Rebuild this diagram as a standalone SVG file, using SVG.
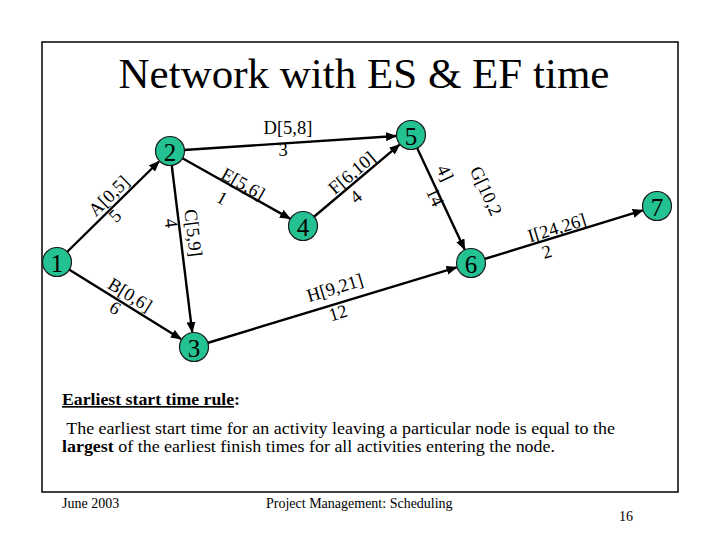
<svg xmlns="http://www.w3.org/2000/svg" width="720" height="540" viewBox="0 0 720 540">
<style>
text{font-family:"Liberation Serif","Times New Roman",serif;fill:#000}
.node circle{fill:#24c192;stroke:#1a1a1a;stroke-width:1.2}
.node text{font-size:25px;text-anchor:middle;dominant-baseline:central}
.edge{stroke:#000;stroke-width:2.4;fill:none;marker-end:url(#arr)}
.lbl{font-size:18.5px;text-anchor:middle;dominant-baseline:central}
.title{font-size:43px;text-anchor:middle}
.body{font-size:16.5px}
.foot{font-size:14px}
</style>
<defs>
<marker id="arr" markerUnits="userSpaceOnUse" markerWidth="11" markerHeight="9" refX="10" refY="4.5" orient="auto">
<path d="M0,0 L11,4.5 L0,9 z" fill="#000"/>
</marker>
</defs>
<rect x="42" y="42" width="636" height="450" fill="none" stroke="#000" stroke-width="1.5"/>
<text class="title" x="364" y="88">Network with ES &amp; EF time</text>

<g id="connectors">
<line class="edge" x1="67" y1="252" x2="159" y2="161.5"/>
<line class="edge" x1="69" y1="269.4" x2="181" y2="339"/>
<line class="edge" x1="171.7" y1="165" x2="192.2" y2="332"/>
<line class="edge" x1="184" y1="150" x2="396" y2="136"/>
<line class="edge" x1="182" y1="158" x2="290" y2="218.6"/>
<line class="edge" x1="313.7" y1="217" x2="399.5" y2="144.7"/>
<line class="edge" x1="417" y1="147.7" x2="464.6" y2="249.4"/>
<line class="edge" x1="207.4" y1="343" x2="456.6" y2="267.4"/>
<line class="edge" x1="484.4" y1="259" x2="642.7" y2="210.4"/>
<text class="lbl" transform="translate(109,196) rotate(-44.5)">A[0,5]</text>
<text class="lbl" transform="translate(115,216) rotate(-44.5)">5</text>
<text class="lbl" transform="translate(130,295) rotate(31.8)">B[0,6]</text>
<text class="lbl" transform="translate(115,308) rotate(31.8)">6</text>
<text class="lbl" transform="translate(193,233) rotate(83)">C[5,9]</text>
<text class="lbl" transform="translate(171,223) rotate(83)">4</text>
<text class="lbl" transform="translate(288,128)">D[5,8]</text>
<text class="lbl" transform="translate(283,150)">3</text>
<text class="lbl" transform="translate(243,184) rotate(29.4)">E[5,6]</text>
<text class="lbl" transform="translate(222,198) rotate(29.4)">1</text>
<text class="lbl" transform="translate(352,173) rotate(-40)">F[6,10]</text>
<text class="lbl" transform="translate(356,197) rotate(-40)">4</text>
<text class="lbl" transform="translate(486,191) rotate(65)">G[10,2</text>
<text class="lbl" transform="translate(445,173) rotate(65)">4]</text>
<text class="lbl" transform="translate(435,197) rotate(65)">14</text>
<text class="lbl" transform="translate(335,288) rotate(-16.9)">H[9,21]</text>
<text class="lbl" transform="translate(338,313) rotate(-16.9)">12</text>
<text class="lbl" transform="translate(557,228) rotate(-17)">I[24,26]</text>
<text class="lbl" transform="translate(547,252) rotate(-17)">2</text>
</g>

<g id="node1" class="node"><circle cx="57" cy="262" r="14.5"/><text x="57" y="263">1</text></g>
<g id="node2" class="node"><circle cx="170" cy="151" r="14.5"/><text x="170" y="152">2</text></g>
<g id="node3" class="node"><circle cx="194" cy="347" r="14.5"/><text x="194" y="348">3</text></g>
<g id="node4" class="node"><circle cx="303" cy="226" r="14.5"/><text x="303" y="227">4</text></g>
<g id="node5" class="node"><circle cx="411" cy="135" r="14.5"/><text x="411" y="136">5</text></g>
<g id="node6" class="node"><circle cx="471" cy="263" r="14.5"/><text x="471" y="264">6</text></g>
<g id="node7" class="node"><circle cx="657" cy="206" r="14.5"/><text x="657" y="207">7</text></g>

<text class="body" x="62" y="405" font-weight="bold" textLength="178" lengthAdjust="spacingAndGlyphs"><tspan text-decoration="underline">Earliest start time rule</tspan>:</text>
<text class="body" x="62" y="434" xml:space="preserve" textLength="553" lengthAdjust="spacingAndGlyphs"> The earliest start time for an activity leaving a particular node is equal to the</text>
<text class="body" x="62" y="452" textLength="493" lengthAdjust="spacingAndGlyphs"><tspan font-weight="bold">largest</tspan> of the earliest finish times for all activities entering the node.</text>

<text class="foot" x="62" y="508">June 2003</text>
<text class="foot" x="266" y="508">Project Management: Scheduling</text>
<text class="foot" x="619" y="521">16</text>
</svg>
